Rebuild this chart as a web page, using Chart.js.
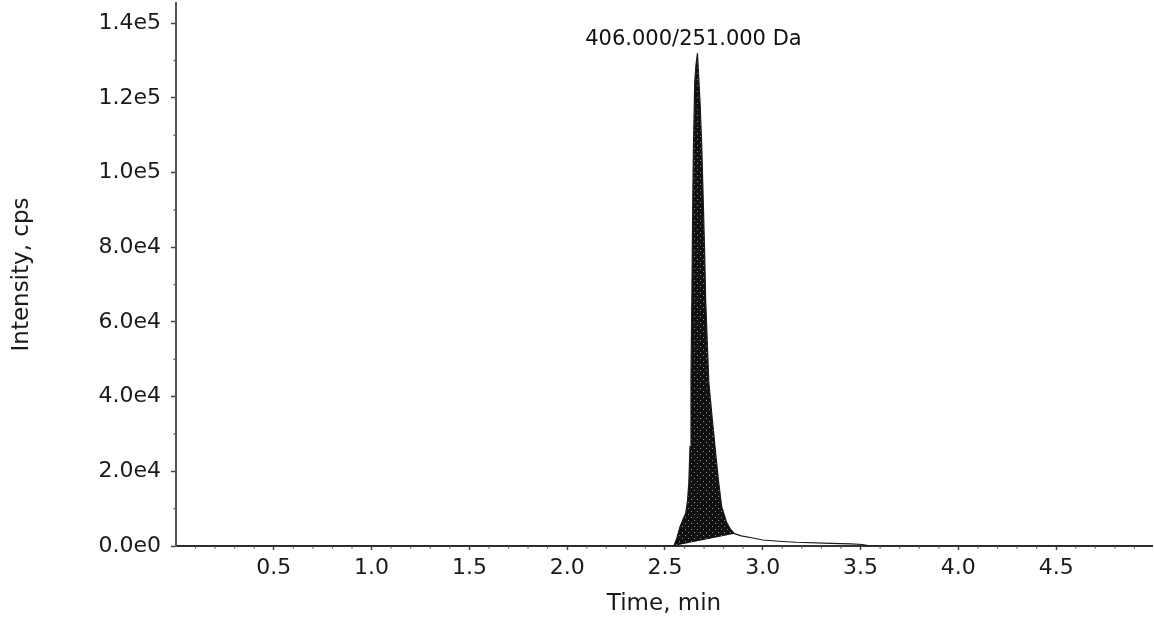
<!DOCTYPE html>
<html><head><meta charset="utf-8">
<script src="https://cdn.jsdelivr.net/npm/chart.js@4.4.1/dist/chart.umd.min.js"></script>
<style>html,body{margin:0;padding:0;background:#fff}#wrap{width:1154px;height:621px}</style>
</head><body><div id="wrap"><canvas id="c" width="1154" height="621"></canvas></div>
<script>
// ---- data ----
const times = [0, 2.545, 2.56, 2.577, 2.595, 2.606, 2.615, 2.622, 2.628, 2.633, 2.638, 2.642, 2.645, 2.652, 2.658, 2.666, 2.672, 2.680, 2.688, 2.697, 2.703, 2.708, 2.716, 2.724, 2.739, 2.756, 2.773, 2.790, 2.816, 2.835, 2.855, 2.89, 2.95, 3.0, 3.1, 3.17, 3.35, 3.45, 3.51, 3.55, 4.99];
const intensity = [0, 0, 2000, 5200, 7500, 8800, 12000, 17000, 26600, 44400, 70000, 92000, 105000, 124000, 128500, 132000, 126000, 118000, 107000, 90000, 78000, 66000, 55000, 44000, 35500, 26500, 17700, 10500, 6200, 4500, 3300, 2700, 2150, 1600, 1200, 1000, 700, 550, 400, 0, 0];
const baselineTimes = [2.545, 2.855];
const baselineIntensity = [0, 3300];
const peakLabel = '406.000/251.000 Da';
const xTickValues = [0.5, 1.0, 1.5, 2.0, 2.5, 3.0, 3.5, 4.0, 4.5];
const xTickLabels = ['0.5', '1.0', '1.5', '2.0', '2.5', '3.0', '3.5', '4.0', '4.5'];
const yTickValues = [0, 20000, 40000, 60000, 80000, 100000, 120000, 140000];
const yTickLabels = ['0.0e0', '2.0e4', '4.0e4', '6.0e4', '8.0e4', '1.0e5', '1.2e5', '1.4e5'];
const xTitle = 'Time, min';
const yTitle = 'Intensity, cps';
const xRange = [0, 4.99];
const yRange = [0, 145400];

// ---- build ----
const tracePts = times.map((t, i) => ({x: t, y: intensity[i]}));
const fillPts = tracePts.filter(p => p.x >= baselineTimes[0] && p.x <= baselineTimes[1]);
const basePts = baselineTimes.map((t, i) => ({x: t, y: baselineIntensity[i]}));

const canvas = document.getElementById('c');
const ctx0 = canvas.getContext('2d');
const tile = document.createElement('canvas');
tile.width = 6; tile.height = 6;
const tg = tile.getContext('2d');
tg.fillStyle = '#111'; tg.fillRect(0, 0, 6, 6);
tg.fillStyle = '#8c8c8c'; tg.fillRect(1, 1, 1, 1); tg.fillRect(4, 4, 1, 1);
const dots = ctx0.createPattern(tile, 'repeat');

const FONT = '"DejaVu Sans", "Liberation Sans", Arial, sans-serif';
const axisColor = '#444';

const minorTicks = {
  id: 'minorTicks',
  afterDraw(chart) {
    const {ctx, scales: {x, y}, chartArea: a} = chart;
    ctx.save();
    ctx.strokeStyle = '#555';
    ctx.lineWidth = 1.2;
    for (let i = 1; i < 50; i++) {
      if (i % 5 === 0) continue;
      const px = x.getPixelForValue(i / 10);
      if (px > a.right) break;
      ctx.beginPath(); ctx.moveTo(px, a.bottom); ctx.lineTo(px, a.bottom + 2.5); ctx.stroke();
    }
    for (let v = 10000; v < yRange[1]; v += 20000) {
      const py = y.getPixelForValue(v);
      ctx.beginPath(); ctx.moveTo(a.left, py); ctx.lineTo(a.left - 2.5, py); ctx.stroke();
    }
    ctx.restore();
  }
};

const peakText = {
  id: 'peakText',
  afterDatasetsDraw(chart) {
    const {ctx, scales: {x, y}} = chart;
    let k = 0;
    intensity.forEach((v, i) => { if (v > intensity[k]) k = i; });
    ctx.save();
    ctx.font = '21px ' + FONT;
    ctx.fillStyle = '#111';
    ctx.textAlign = 'center';
    ctx.textBaseline = 'alphabetic';
    ctx.fillText(peakLabel, x.getPixelForValue(times[k]) - 4, y.getPixelForValue(intensity[k]) - 8);
    ctx.restore();
  }
};

new Chart(canvas, {
  type: 'line',
  data: {
    datasets: [
      {data: tracePts, borderColor: '#1a1a1a', borderWidth: 1.2, pointRadius: 0, fill: false, tension: 0},
      {data: fillPts, borderWidth: 0, borderColor: 'rgba(0,0,0,0)', backgroundColor: dots, pointRadius: 0, fill: '+1', tension: 0},
      {data: basePts, borderWidth: 0, borderColor: 'rgba(0,0,0,0)', pointRadius: 0, fill: false, tension: 0}
    ]
  },
  options: {
    responsive: false,
    animation: false,
    events: [],
    layout: {padding: {top: 3, right: 2, left: 0, bottom: 0}},
    plugins: {legend: {display: false}, tooltip: {enabled: false}, title: {display: false}},
    scales: {
      x: {
        type: 'linear', min: xRange[0], max: xRange[1],
        afterBuildTicks: s => { s.ticks = xTickValues.map(v => ({value: v})); },
        afterFit: s => { s.height = 75; s.paddingLeft = 0; s.paddingRight = 0; },
        ticks: {autoSkip: false, maxRotation: 0, padding: 5, color: '#1a1a1a', font: {family: FONT, size: 22},
                callback: (v, i) => xTickLabels[i]},
        grid: {display: true, drawOnChartArea: false, drawTicks: true, tickLength: 4, tickColor: axisColor, tickWidth: 1.5},
        border: {display: true, color: '#333', width: 2},
        title: {display: true, text: xTitle, color: '#1a1a1a', font: {family: FONT, size: 23}, padding: {top: 0, bottom: 3}}
      },
      y: {
        type: 'linear', min: yRange[0], max: yRange[1],
        afterBuildTicks: s => { s.ticks = yTickValues.map(v => ({value: v})); },
        afterFit: s => { s.width = 176; s.paddingTop = 0; s.paddingBottom = 0; },
        ticks: {padding: 10, color: '#1a1a1a', font: {family: FONT, size: 22},
                callback: (v, i) => yTickLabels[i]},
        grid: {display: true, drawOnChartArea: false, drawTicks: true, tickLength: 5, tickColor: axisColor, tickWidth: 1.5},
        border: {display: true, color: '#555', width: 2},
        title: {display: true, text: yTitle, color: '#1a1a1a', font: {family: FONT, size: 23}, padding: {top: 8, bottom: 0}}
      }
    }
  },
  plugins: [minorTicks, peakText]
});
</script>
</body></html>
